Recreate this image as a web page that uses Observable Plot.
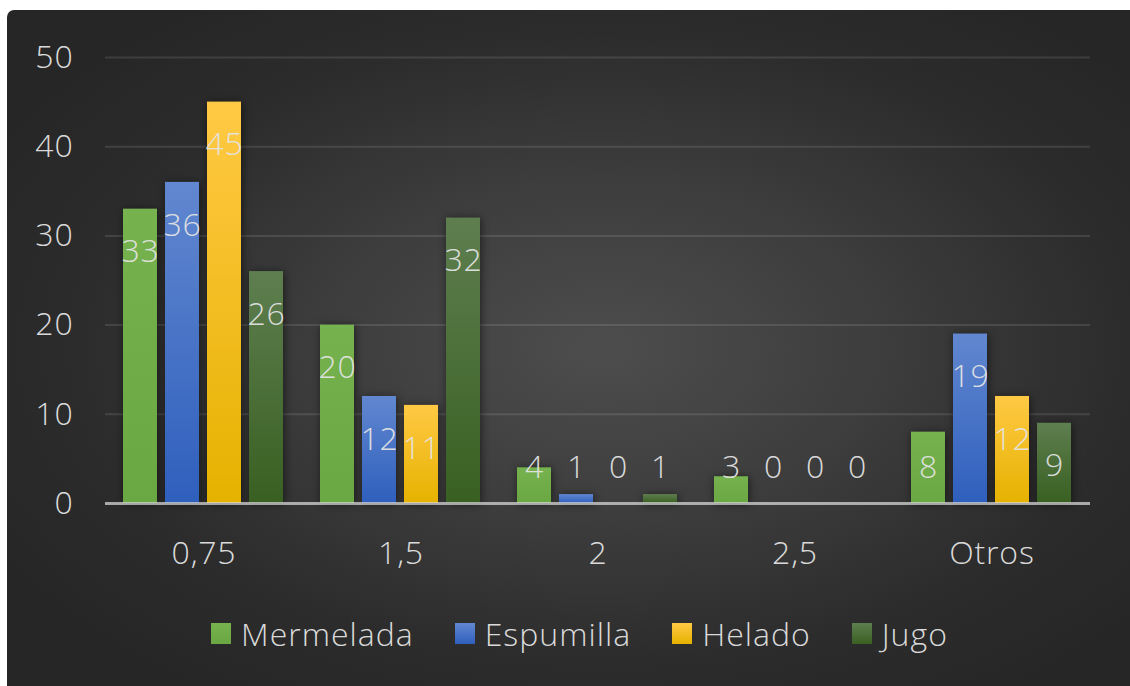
<!DOCTYPE html>
<html><head><meta charset="utf-8">
<script src="https://cdn.jsdelivr.net/npm/d3@7"></script>
<script src="https://cdn.jsdelivr.net/npm/@observablehq/plot@0.6"></script>
<style>
body{margin:0;background:#fff;width:1130px;height:686px;overflow:hidden;font-family:"Open Sans",sans-serif}
#panel{position:absolute;left:7px;top:10px;width:1123px;height:676px;border-top-left-radius:7px;overflow:hidden;
background:radial-gradient(ellipse 62% 62% at 53% 50%, #4d4d4d 0%, #3d3d3d 40%, #2c2c2c 75%, #262626 100%);}
#chart{position:absolute;left:0;top:0}
#legend{position:absolute;left:204px;top:603px;height:40px;display:flex;align-items:center;color:#dadada;font-size:32px;font-weight:300;letter-spacing:1px}
.item{display:flex;align-items:center;margin-right:41px}
.sw{width:20px;height:21px;margin-right:10px}
g[aria-label="bar"] rect{filter:drop-shadow(1px 1px 4px rgba(0,0,0,0.55))}
svg text{font-weight:300;letter-spacing:0.8px}
</style></head>
<body>
<div id="panel"><div id="chart"></div><div id="legend"></div></div>
<script>
const categories = ["0,75", "1,5", "2", "2,5", "Otros"];
const series = ["Mermelada", "Espumilla", "Helado", "Jugo"];
const mermelada = [33, 20, 4, 3, 8];
const espumilla = [36, 12, 1, 0, 19];
const helado = [45, 11, 0, 0, 12];
const jugo = [26, 32, 1, 0, 9];
const yTicks = [0, 10, 20, 30, 40, 50];

const seriesValues = [mermelada, espumilla, helado, jugo];
const gradStops = [["#76b24d", "#6aa843"], ["#6187cf", "#2f5fbd"], ["#ffc944", "#e6b200"], ["#5e7e4f", "#396022"]];

const rows = [];
categories.forEach((c, i) => series.forEach((s, j) => rows.push({cat: c, series: s, value: seriesValues[j][i]})));

const textColor = "#dadada";
const svg = Plot.plot({
  width: 1123, height: 580,
  marginLeft: 97, marginRight: 40, marginTop: 47, marginBottom: 87,
  style: {background: "transparent", color: textColor, fontFamily: "'Open Sans', sans-serif", fontSize: "32px", overflow: "visible"},
  fx: {domain: categories, padding: 0, label: null, axis: null},
  x: {domain: series, paddingInner: 0.186, paddingOuter: 0.386, axis: null},
  y: {domain: [0, 50], label: null, axis: null},
  color: {type: "ordinal", domain: series, range: series.map((s, j) => `url(#grad${j})`)},
  marks: [
    Plot.gridY(yTicks, {stroke: "#ffffff", strokeOpacity: 0.11, strokeWidth: 2}),
    Plot.barY(rows, {fx: "cat", x: "series", y: "value", fill: "series"}),
    Plot.ruleY([0], {stroke: "#d8d8d8", strokeOpacity: 0.7, strokeWidth: 3}),
    Plot.text(rows, {fx: "cat", x: "series", y: d => Math.max(d.value, 8.83), dy: 43, text: d => String(d.value), fill: "#e4e4e4", fillOpacity: 0.95, fontSize: 32}),
    Plot.axisY(yTicks, {tickSize: 0, tickPadding: 32, fontSize: 32, label: null, fill: textColor}),
    Plot.axisFx({anchor: "bottom", tickSize: 0, tickPadding: 38, fontSize: 32, label: null, fill: textColor})
  ]
});

const defs = d3.select(svg).insert("defs", ":first-child");
gradStops.forEach((st, j) => {
  const g = defs.append("linearGradient").attr("id", `grad${j}`).attr("x1", 0).attr("y1", 0).attr("x2", 0).attr("y2", 1);
  g.append("stop").attr("offset", "0%").attr("stop-color", st[0]);
  g.append("stop").attr("offset", "100%").attr("stop-color", st[1]);
});
document.getElementById("chart").appendChild(svg);

const legend = document.getElementById("legend");
series.forEach((s, j) => {
  const it = document.createElement("div"); it.className = "item";
  const sw = document.createElement("div"); sw.className = "sw";
  sw.style.background = `linear-gradient(${gradStops[j][0]}, ${gradStops[j][1]})`;
  const t = document.createElement("span"); t.textContent = s;
  it.appendChild(sw); it.appendChild(t); legend.appendChild(it);
});
</script>
</body></html>
